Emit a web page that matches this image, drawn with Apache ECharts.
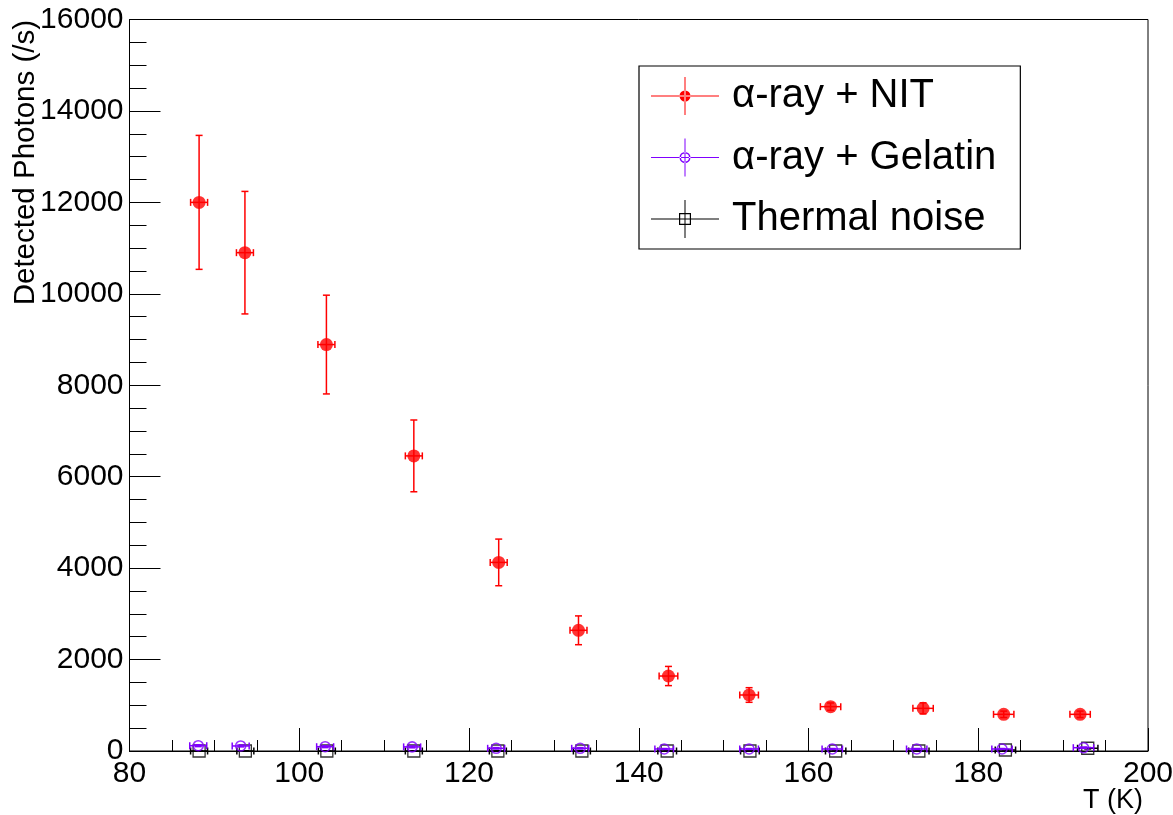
<!DOCTYPE html>
<html>
<head>
<meta charset="utf-8">
<script src="https://cdn.jsdelivr.net/npm/echarts@6/dist/echarts.min.js"></script>
<style>
html,body{margin:0;padding:0;background:#fff;}
#chart{width:1173px;height:815px;}
</style>
</head>
<body>
<div id="chart"></div>
<script>
// ---- data ----
const seriesNames = ['\u03b1-ray + NIT', '\u03b1-ray + Gelatin', 'Thermal noise'];

const nitT     = [88.2, 93.6, 103.2, 113.5, 123.5, 132.9, 143.5, 153.0, 162.6, 173.5, 183.0, 192.0];
const nitY     = [12000, 10900, 8890, 6455, 4125, 2640, 1640, 1225, 970, 933, 802, 802];
const nitTErr  = [1.0, 1.0, 1.0, 1.0, 1.0, 1.0, 1.1, 1.1, 1.2, 1.2, 1.2, 1.2];
const nitYErr  = [1465, 1340, 1080, 785, 510, 315, 210, 160, 80, 120, 70, 70];

const gelT     = [88.1, 93.1, 103.05, 113.3, 123.2, 133.1, 143.0, 153.0, 162.8, 172.75, 182.8, 192.4];
const gelY     = [116, 110, 94, 90, 59, 59, 44, 44, 44, 44, 44, 72];
const gelTErr  = [1.0, 1.0, 1.0, 1.0, 1.0, 1.0, 1.1, 1.1, 1.2, 1.2, 1.2, 1.2];
const gelYErr  = [20, 20, 20, 20, 15, 15, 10, 10, 10, 10, 10, 15];

const thT      = [88.2, 93.65, 103.25, 113.5, 123.4, 133.3, 143.35, 153.1, 163.2, 173.0, 183.2, 192.9];
const thY      = [0, 0, 0, 0, 0, 0, 0, 0, 0, 0, 22, 60];
const thTErr   = [1.0, 1.0, 1.0, 1.0, 1.0, 1.0, 1.1, 1.1, 1.2, 1.2, 1.2, 1.2];
const thYErr   = [5, 5, 5, 5, 5, 5, 5, 5, 5, 5, 10, 15];

const xTicks = [80, 100, 120, 140, 160, 180, 200];
const yTicks = [0, 2000, 4000, 6000, 8000, 10000, 12000, 14000, 16000];

// ---- styles ----
const RED = '#ff0000', VIOLET = '#8000ff', BLACK = '#000000';
const FONT = '"Liberation Sans", Arial, Helvetica, sans-serif';

function build(t, y, et, ey) { return t.map((v, i) => [v, y[i], et[i], ey[i]]); }

function errRender(color) {
  return function (params, api) {
    const x = api.value(0), y = api.value(1), ex = api.value(2), ey = api.value(3);
    const top = api.coord([x, y + ey]);
    const bot = api.coord([x, y - ey]);
    const lft = api.coord([x - ex, y]);
    const rgt = api.coord([x + ex, y]);
    const cap = 3.5;
    const st = { stroke: color, lineWidth: 1.5, fill: null };
    const ch = [];
    ch.push({ type: 'line', shape: { x1: top[0], y1: top[1], x2: bot[0], y2: bot[1] }, style: st });
    ch.push({ type: 'line', shape: { x1: lft[0], y1: lft[1], x2: rgt[0], y2: rgt[1] }, style: st });
    ch.push({ type: 'line', shape: { x1: top[0] - cap, y1: top[1], x2: top[0] + cap, y2: top[1] }, style: st });
    ch.push({ type: 'line', shape: { x1: bot[0] - cap, y1: bot[1], x2: bot[0] + cap, y2: bot[1] }, style: st });
    ch.push({ type: 'line', shape: { x1: lft[0], y1: lft[1] - cap, x2: lft[0], y2: lft[1] + cap }, style: st });
    ch.push({ type: 'line', shape: { x1: rgt[0], y1: rgt[1] - cap, x2: rgt[0], y2: rgt[1] + cap }, style: st });
    return { type: 'group', children: ch };
  };
}

// legend icons: crosshair + marker (68 x 38 box)
const crossPath = 'M0 18.5 H68 V19.5 H0 Z M33.5 0 H34.5 V38 H33.5 Z ';
const iconNIT = 'path://' + crossPath + 'M28.5 19 A5.5 5.5 0 1 0 39.5 19 A5.5 5.5 0 1 0 28.5 19 Z';
const iconGel = 'path://' + crossPath + 'M28.5 19 A5.5 5.5 0 1 0 39.5 19 A5.5 5.5 0 1 0 28.5 19 Z M30 19 A4 4 0 1 1 38 19 A4 4 0 1 1 30 19 Z';
const iconTh  = 'path://' + crossPath + 'M28 13 H40 V25 H28 Z M29.2 14.2 V23.8 H38.8 V14.2 Z';

const chart = echarts.init(document.getElementById('chart'), null, { renderer: 'canvas' });

const plain = v => String(v);

const option = {
  backgroundColor: '#ffffff',
  animation: false,
  textStyle: { fontFamily: FONT },
  grid: { left: 129.5, right: 25, top: 19.5, bottom: 64, show: true, borderColor: '#000', borderWidth: 1,
          backgroundColor: 'transparent', containLabel: false, outerBoundsMode: 'none' },
  xAxis: {
    type: 'value', min: xTicks[0], max: xTicks[xTicks.length - 1], interval: 20,
    axisLine: { onZero: false, lineStyle: { color: '#000', width: 1 } },
    axisTick: { inside: true, length: 23, lineStyle: { color: '#000', width: 1 } },
    minorTick: { show: true, splitNumber: 4, length: 11, lineStyle: { color: '#000', width: 1 } },
    splitLine: { show: false },
    axisLabel: { color: '#000', fontSize: 30, fontFamily: FONT, margin: 8, formatter: plain },
    name: 'T (K)', nameLocation: 'end', nameGap: -5, nameMoveOverlap: false,
    nameTextStyle: { color: '#000', fontSize: 27, fontFamily: FONT, align: 'right', verticalAlign: 'top', padding: [36, 0, 0, 0] }
  },
  yAxis: {
    type: 'value', min: yTicks[0], max: yTicks[yTicks.length - 1], interval: 2000,
    axisLine: { show: true, onZero: false, lineStyle: { color: '#000', width: 1 } },
    axisTick: { show: true, inside: true, length: 31, lineStyle: { color: '#000', width: 1 } },
    minorTick: { show: true, splitNumber: 4, length: 17, lineStyle: { color: '#000', width: 1 } },
    splitLine: { show: false },
    axisLabel: { color: '#000', fontSize: 30, fontFamily: FONT, margin: 6, formatter: plain }
  },
  graphic: [{
    type: 'text', x: 26, y: 20, rotation: Math.PI / 2,
    style: { text: 'Detected Photons (/s)', fontSize: 29.5, fontFamily: FONT, fill: '#000', align: 'right', textAlign: 'right', verticalAlign: 'middle', textVerticalAlign: 'middle' }
  }],
  legend: {
    orient: 'vertical', left: 639, top: 66,
    backgroundColor: '#fff', borderColor: '#000', borderWidth: 1.2,
    padding: [10, 24, 10, 12],
    itemWidth: 68, itemHeight: 38, itemGap: 21.5,
    textStyle: { color: '#000', fontSize: 40, fontFamily: FONT, lineHeight: 38, padding: [0, 0, 0, 8] },
    data: [
      { name: seriesNames[0], icon: iconNIT, itemStyle: { color: RED, borderWidth: 0 } },
      { name: seriesNames[1], icon: iconGel, itemStyle: { color: VIOLET, borderWidth: 0 } },
      { name: seriesNames[2], icon: iconTh, itemStyle: { color: BLACK, borderWidth: 0 } }
    ]
  },
  series: [
    { type: 'custom', name: seriesNames[2], renderItem: errRender(BLACK), data: build(thT, thY, thTErr, thYErr), clip: false, z: 3 },
    { type: 'scatter', name: seriesNames[2], data: build(thT, thY, thTErr, thYErr), symbol: 'rect', symbolSize: 12, clip: false, z: 4,
      itemStyle: { color: 'rgba(0,0,0,0)', borderColor: BLACK, borderWidth: 1.3 } },
    { type: 'custom', name: seriesNames[1], renderItem: errRender(VIOLET), data: build(gelT, gelY, gelTErr, gelYErr), clip: false, z: 5 },
    { type: 'scatter', name: seriesNames[1], data: build(gelT, gelY, gelTErr, gelYErr), symbol: 'circle', symbolSize: 10, clip: false, z: 6,
      itemStyle: { color: 'rgba(0,0,0,0)', borderColor: VIOLET, borderWidth: 1.6 } },
    { type: 'custom', name: seriesNames[0], renderItem: errRender(RED), data: build(nitT, nitY, nitTErr, nitYErr), clip: false, z: 7 },
    { type: 'scatter', name: seriesNames[0], data: build(nitT, nitY, nitTErr, nitYErr), symbol: 'circle', symbolSize: 13, clip: false, z: 8,
      itemStyle: { color: RED, borderWidth: 0 } }
  ]
};
chart.setOption(option);
</script>
</body>
</html>
